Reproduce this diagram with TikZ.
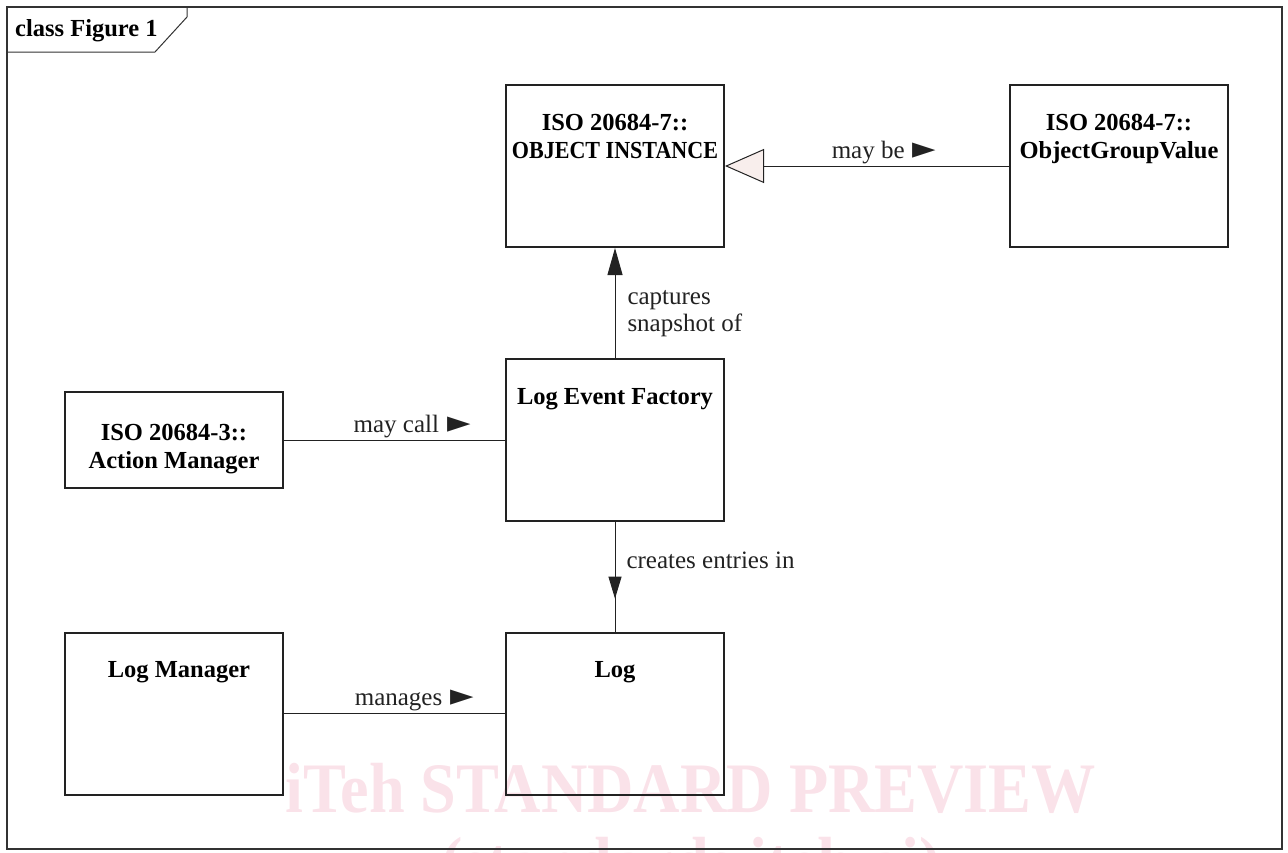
\documentclass[tikz,border=0pt]{standalone}
\usepackage{fontspec}
\setmainfont{Liberation Serif}
\newfontfamily\ptrfont{DejaVu Sans}
\usetikzlibrary{arrows.meta,decorations.markings}
\definecolor{umlline}{HTML}{222222}
\definecolor{umlframe}{HTML}{333333}
\definecolor{genfill}{HTML}{F8EEEC}
\definecolor{wmark}{HTML}{FAE2E9}
\newcommand{\ptr}{\hspace{2pt}\scalebox{1.22}{\ptrfont\char"25BA}}

\begin{document}
\begin{tikzpicture}[x=1pt,y=-1pt,every node/.style={font=\fontsize{25}{27}\selectfont,align=center},cls/.style={draw=umlline,line width=2pt,minimum width=218pt,minimum height=162pt,inner sep=0pt},ttl/.style={anchor=north,yshift=-30pt,inner sep=0pt,font=\fontsize{24.5}{28}\selectfont\bfseries},conn/.style={umlline,line width=1pt},lbl/.style={inner sep=2pt},wm/.style={text=wmark,inner sep=0pt,anchor=base,font=\fontsize{71}{80}\selectfont\bfseries}]
\useasboundingbox (0,0) rectangle (1288,852);
% watermark
\begin{scope}
\clip (0,0) rectangle (1288,852);
\node[wm] (wma) at (691,812) {\scalebox{0.905}[1]{iTeh STANDARD PREVIEW}};
\node[wm] (wmb) at (691,886) {\scalebox{0.905}[1]{(standards.iteh.ai)}};
\end{scope}
% frame
\draw[umlframe,line width=1.5pt] (7,7) rectangle (1282,849);
\draw[umlframe,line width=1pt] (7,52) -- (155,52) -- (187,17) -- (187,7);
\node[anchor=base west,inner sep=0pt,font=\fontsize{24.5}{28}\selectfont\bfseries] (frm) at (15,36) {class Figure 1};
% classes
\node[cls] (oi) at (615,166) {};
\node[cls] (ogv) at (1119,166) {};
\node[cls] (lef) at (615,440) {};
\node[cls,minimum height=96pt] (am) at (174,440) {};
\node[cls] (lm) at (174,713.5) {};
\node[cls] (log) at (615,713.5) {};
\node[ttl] (oit) at (oi.north) {ISO 20684-7::\\\scalebox{0.9}[1]{OBJECT INSTANCE}};
\node[ttl] (ogvt) at (ogv.north) {ISO 20684-7::\\ObjectGroupValue};
\node[ttl] (ueft) at (lef.north) {Log Event Factory};
\node[ttl,yshift=-3pt] (amt) at (am.north) {ISO 20684-3::\\Action Manager};
\node[ttl,xshift=5pt] (lmt) at (lm.north) {Log Manager};
\node[ttl] (logt) at (log.north) {Log};
% associations
\draw[conn,-{Triangle[length=39pt,width=34pt,fill=genfill]}] (ogv.west) -- node[lbl,above,pos=.44] (gl) {may be \ptr} (oi.east);
\draw[conn,-{Triangle[length=27pt,width=15pt]}] (lef.north) -- node[lbl,right=10pt,pos=.40,align=left] (cl) {captures\\snapshot of} (oi.south);
\draw[conn] (am.east) -- node[lbl,above,pos=.58] (ml) {may call \ptr} (lef.west);
\draw[conn,postaction={decorate},decoration={markings,mark=at position .7 with {\arrow{Triangle[length=22pt,width=13pt]}}}] (lef.south) -- node[lbl,right=9pt,pos=.35] (el) {creates entries in} (log.north);
\draw[conn] (lm.east) -- node[lbl,above,pos=.59] (gl2) {manages \ptr} (log.west);
\end{tikzpicture}
\end{document}
